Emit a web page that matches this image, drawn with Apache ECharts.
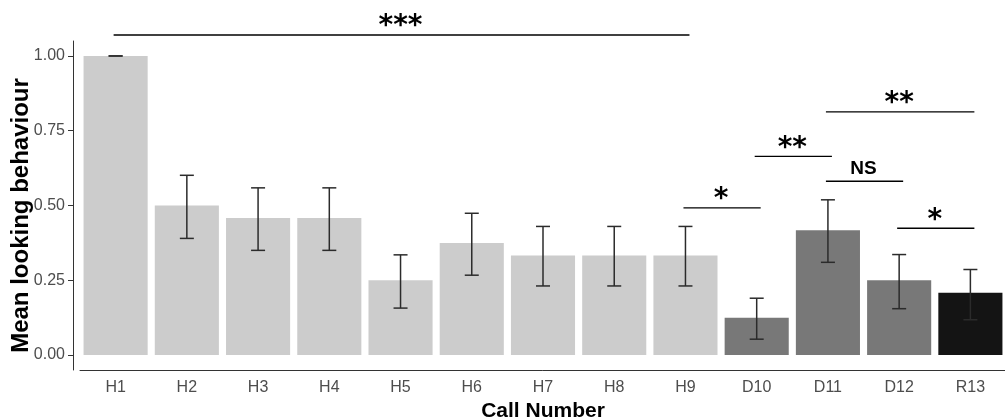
<!DOCTYPE html>
<html>
<head>
<meta charset="utf-8">
<script src="https://cdn.jsdelivr.net/npm/echarts@6/dist/echarts.min.js"></script>
<style>
  html, body { margin: 0; padding: 0; background: #ffffff; overflow: hidden; }
  #chart { width: 1005px; height: 419px; }
</style>
</head>
<body>
<div id="chart"></div>
<script>
// ---- data ----
const categories = ['H1', 'H2', 'H3', 'H4', 'H5', 'H6', 'H7', 'H8', 'H9', 'D10', 'D11', 'D12', 'R13'];
const callTypes  = ['H', 'H', 'H', 'H', 'H', 'H', 'H', 'H', 'H', 'D', 'D', 'D', 'R'];
const means      = [1.000, 0.500, 0.458, 0.458, 0.250, 0.375, 0.333, 0.333, 0.333, 0.125, 0.417, 0.250, 0.208];
const upperErr   = [1.000, 0.601, 0.559, 0.559, 0.335, 0.474, 0.430, 0.430, 0.430, 0.190, 0.519, 0.336, 0.286];
const lowerErr   = [1.000, 0.390, 0.350, 0.350, 0.157, 0.267, 0.231, 0.231, 0.231, 0.053, 0.310, 0.155, 0.118];
const yTickValues = [0, 0.25, 0.5, 0.75, 1.0];

// significance brackets: from category index, to category index, height, label
const sigStart = [0, 8, 9, 10, 10, 11];
const sigEnd   = [8, 9, 10, 11, 12, 12];
const sigY     = [1.07, 0.492, 0.664, 0.581, 0.813, 0.424];
const sigLabel = ['***', '*', '**', 'NS', '**', '*'];

// ---- styles ----
const typeColor = { H: '#CCCCCC', D: '#787878', R: '#141414' };

const barData = means.map((v, i) => ({ value: v, itemStyle: { color: typeColor[callTypes[i]] } }));
const errData = means.map((v, i) => [i, lowerErr[i], upperErr[i]]);
const sigData = sigStart.map((s, i) => [s, sigEnd[i], sigY[i]]);

const chart = echarts.init(document.getElementById('chart'), null, { renderer: 'canvas' });

chart.setOption({
  animation: false,
  backgroundColor: '#ffffff',
  grid: { left: 80, top: 41, width: 926, bottom: 49, containLabel: false, outerBoundsMode: 'none' },
  xAxis: {
    type: 'category',
    data: categories,
    boundaryGap: true,
    name: 'Call Number',
    nameLocation: 'middle',
    nameGap: 31,
    nameMoveOverlap: false,
    nameTextStyle: { fontFamily: 'Liberation Sans', fontWeight: 'bold', fontSize: 21, color: '#000000' },
    axisLine: { onZero: false, lineStyle: { color: '#333333', width: 1 } },
    axisTick: { alignWithLabel: true, length: 4, lineStyle: { color: '#333333' } },
    axisLabel: { fontFamily: 'Liberation Sans', fontSize: 16, color: '#4D4D4D', margin: 10 }
  },
  yAxis: {
    type: 'value',
    min: -0.05,
    max: 1.05,
    offset: 7,
    name: 'Mean looking behaviour',
    nameLocation: 'middle',
    nameGap: 40,
    nameRotate: 90,
    nameMoveOverlap: false,
    nameTextStyle: { fontFamily: 'Liberation Sans', fontWeight: 'bold', fontSize: 24, color: '#000000', padding: [0, 20, 0, 0] },
    axisLine: { show: true, lineStyle: { color: '#333333', width: 1 } },
    axisTick: { show: true, length: 5, customValues: yTickValues, lineStyle: { color: '#333333' } },
    axisLabel: {
      customValues: yTickValues,
      fontFamily: 'Liberation Sans', fontSize: 16, color: '#4D4D4D', margin: 8,
      formatter: v => Number(v).toFixed(2)
    },
    splitLine: { show: false }
  },
  series: [
    {
      type: 'bar',
      data: barData,
      barWidth: '90%',
      z: 1
    },
    {
      type: 'custom',
      data: errData,
      encode: { x: 0, y: [1, 2] },
      z: 3,
      renderItem: function (params, api) {
        const i = api.value(0);
        const lo = api.coord([i, api.value(1)]);
        const hi = api.coord([i, api.value(2)]);
        const hw = 7;
        const style = { stroke: '#2b2b2b', lineWidth: 1.5 };
        return {
          type: 'group',
          children: [
            { type: 'line', shape: { x1: lo[0], y1: lo[1], x2: hi[0], y2: hi[1] }, style: style },
            { type: 'line', shape: { x1: hi[0] - hw, y1: hi[1], x2: hi[0] + hw, y2: hi[1] }, style: style },
            { type: 'line', shape: { x1: lo[0] - hw, y1: lo[1], x2: lo[0] + hw, y2: lo[1] }, style: style }
          ]
        };
      }
    },
    {
      type: 'custom',
      data: sigData,
      encode: { x: [0, 1], y: 2 },
      clip: false,
      z: 4,
      renderItem: function (params, api) {
        const a = api.coord([api.value(0), api.value(2)]);
        const b = api.coord([api.value(1), api.value(2)]);
        const lab = sigLabel[params.dataIndex];
        const isStar = lab.indexOf('*') >= 0;
        const cx = (a[0] + b[0]) / 2;
        return {
          type: 'group',
          children: [
            { type: 'line', shape: { x1: a[0] - 2, y1: a[1], x2: b[0] + 4, y2: b[1] }, style: { stroke: '#000000', lineWidth: 1.3 } },
            {
              type: 'text',
              x: cx,
              y: isStar ? a[1] + 6 : a[1] - 3,
              style: {
                text: lab,
                fontFamily: isStar ? 'DejaVu Sans' : 'Liberation Sans',
                fontWeight: 'bold',
                fontSize: isStar ? 28 : 19,
                fill: '#000000',
                align: 'center',
                verticalAlign: 'bottom'
              }
            }
          ]
        };
      }
    }
  ]
});
</script>
</body>
</html>
